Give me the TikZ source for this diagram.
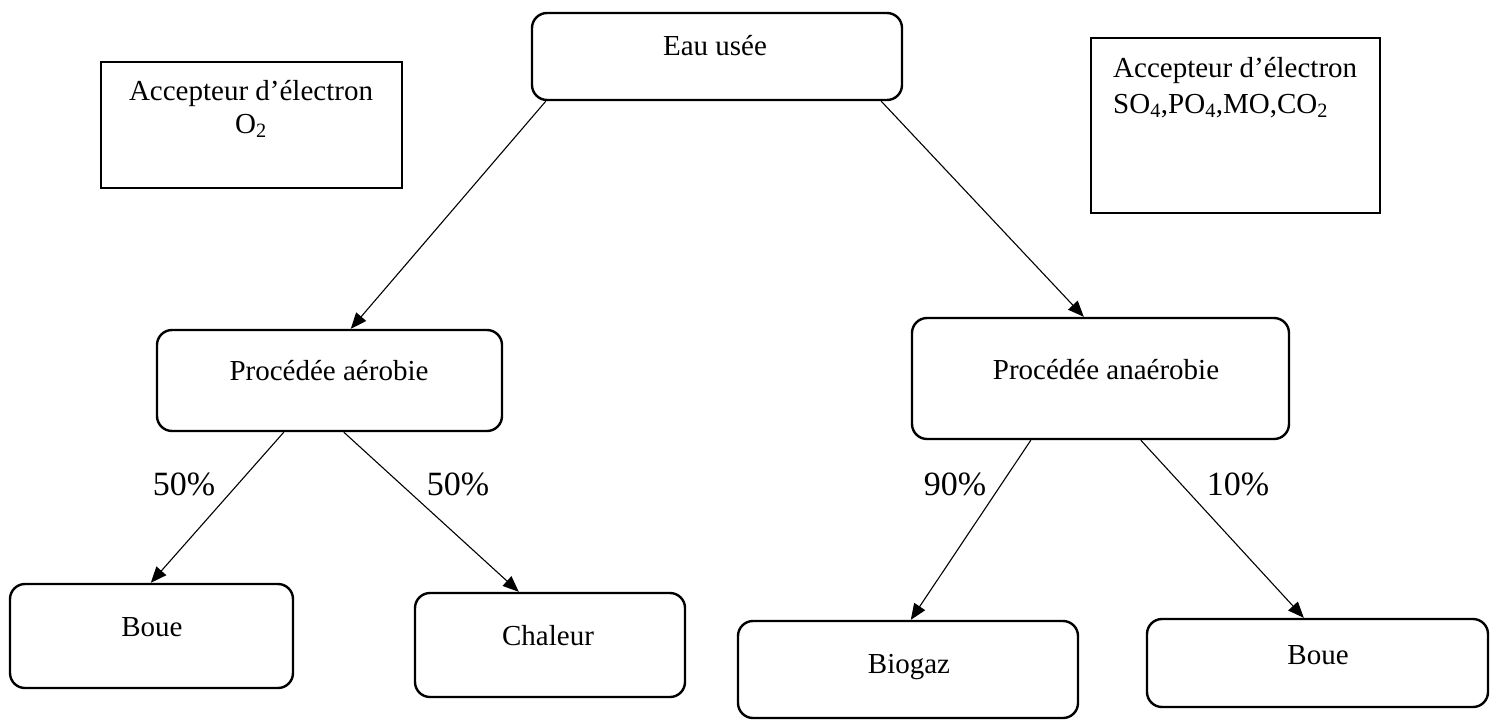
\documentclass[tikz,border=0pt]{standalone}
\usepackage{fontspec}
\setmainfont{Liberation Serif}
\usetikzlibrary{arrows.meta}
\begin{document}
\begin{tikzpicture}[x=1pt,y=-1pt,
  rbox/.style={draw, line width=2.4pt, rounded corners=15pt, inner sep=0pt},
  sbox/.style={draw, line width=1.8pt, inner sep=0pt},
  txt/.style={inner sep=0pt, font=\fontsize{29}{35}\selectfont},
  pct/.style={inner sep=0pt, anchor=base, font=\fontsize{34}{40}\selectfont},
  arr/.style={line width=1.1pt, -{Triangle[length=16pt,width=13pt]}}]
\useasboundingbox (0,0) rectangle (1493,720);

% boxes
\node[rbox, minimum width=370pt, minimum height=87pt] (eau) at (717,56.5) {};
\node[sbox, minimum width=301pt, minimum height=126pt] (accL) at (251.5,125) {};
\node[sbox, minimum width=289pt, minimum height=175pt] (accR) at (1235.5,125.5) {};
\node[rbox, minimum width=345pt, minimum height=101pt] (aer) at (329.5,380.5) {};
\node[rbox, minimum width=377pt, minimum height=121pt] (ana) at (1100.5,378.5) {};
\node[rbox, minimum width=283pt, minimum height=104pt] (boueL) at (151.5,636) {};
\node[rbox, minimum width=270pt, minimum height=104pt] (chal) at (550,645) {};
\node[rbox, minimum width=340pt, minimum height=97pt] (bio) at (908,669.5) {};
\node[rbox, minimum width=341pt, minimum height=88pt] (boueR) at (1317.5,663) {};

% texts
\node[txt, anchor=base] (eau-t) at (715,55) {Eau usée};
\node[txt, anchor=base] (accL-t1) at (251,100) {Accepteur d’électron};
\node[txt, anchor=base] (accL-t2) at (251,133) {O\textsubscript{2}};
\node[txt, anchor=base west] (accR-t1) at (1113,77) {Accepteur d’électron};
\node[txt, anchor=base west] (accR-t2) at (1113,113) {SO\textsubscript{4},PO\textsubscript{4},MO,CO\textsubscript{2}};
\node[txt, anchor=base] (aer-t) at (329,380) {Procédée aérobie};
\node[txt, anchor=base] (ana-t) at (1106,379) {Procédée anaérobie};
\node[txt, anchor=base] (boueL-t) at (152,636) {Boue};
\node[txt, anchor=base] (chal-t) at (548,645) {Chaleur};
\node[txt, anchor=base] (bio-t) at (909,673) {Biogaz};
\node[txt, anchor=base] (boueR-t) at (1318,664) {Boue};

% percentages
\node[pct] (p1) at (184,495) {50\%};
\node[pct] (p2) at (458,495) {50\%};
\node[pct] (p3) at (955,495) {90\%};
\node[pct] (p4) at (1238,495) {10\%};

% connectors
\draw[arr] ([xshift=15pt]eau.south west) -- ([xshift=195pt]aer.north west);
\draw[arr] ([xshift=-22pt]eau.south east) -- ([xshift=173pt]ana.north west);
\draw[arr] ([xshift=128pt]aer.south west) -- ([xshift=142pt]boueL.north west);
\draw[arr] ([xshift=188pt]aer.south west) -- ([xshift=105pt]chal.north west);
\draw[arr] ([xshift=120pt]ana.south west) -- ([xshift=174pt]bio.north west);
\draw[arr] ([xshift=230pt]ana.south west) -- ([xshift=158pt]boueR.north west);
\end{tikzpicture}
\end{document}
